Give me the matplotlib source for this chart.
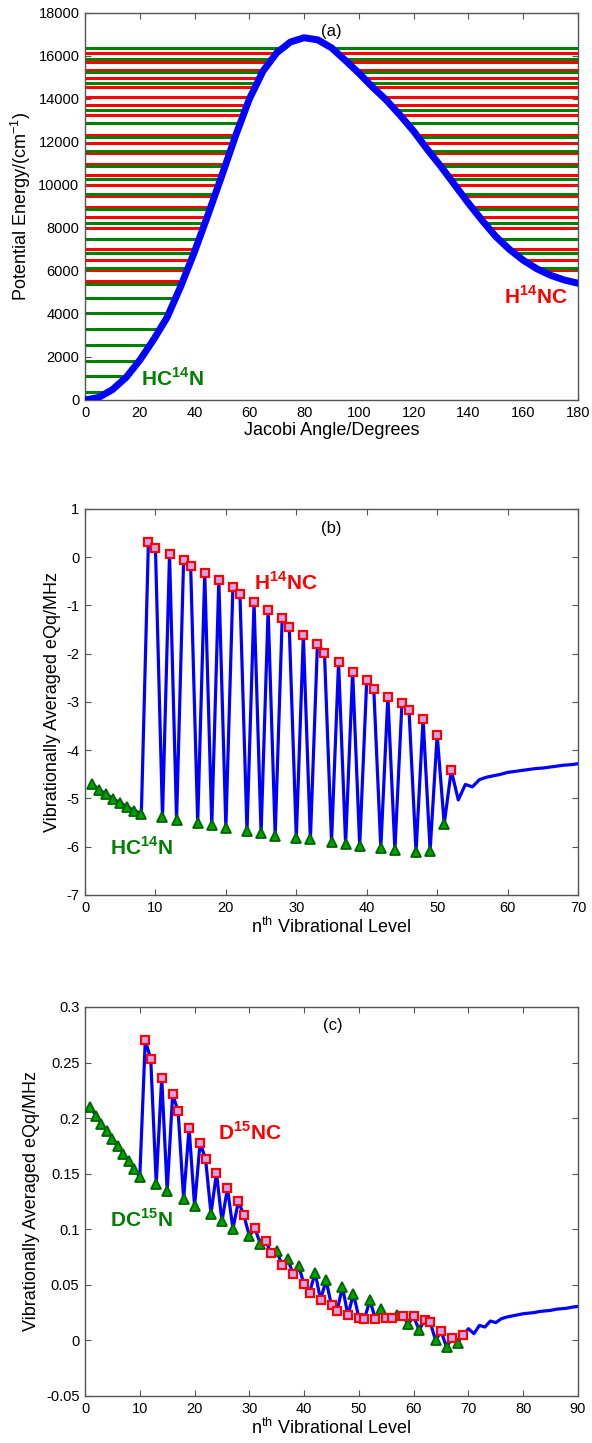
import numpy as np
import matplotlib
matplotlib.use('Agg')
import matplotlib.pyplot as plt

plt.rcParams['font.family'] = ['Liberation Sans', 'DejaVu Sans']
plt.rcParams['mathtext.fontset'] = 'custom'
plt.rcParams['mathtext.rm'] = 'Liberation Sans'
plt.rcParams['mathtext.bf'] = 'Liberation Sans:bold'

# ---- panel (a): potential curve and vibrational levels
theta = [0, 5, 10, 15, 20, 25, 30, 35, 40, 45, 50, 55, 60, 65, 70, 75, 80, 85, 90,
         95, 100, 105, 110, 115, 120, 125, 130, 135, 140, 145, 150, 155, 160, 165, 170, 175, 180]
potential = [0, 120, 480, 1050, 1850, 2800, 3850, 5300, 6900, 8650, 10450, 12300, 14000,
             15300, 16150, 16650, 16850, 16750, 16380, 15800, 15200, 14550, 13950, 13250,
             12500, 11650, 10850, 10000, 9150, 8350, 7600, 7000, 6500, 6100, 5800, 5580, 5430]
hcn_levels = [357, 1116, 1829, 2558, 3287, 4031, 4729, 5395, 6124, 6822, 7488, 8248, 8900,
              9570, 10270, 10890, 11580, 12248, 12870, 13488, 14730, 15270, 15847, 16357]
hnc_levels = [5550, 6047, 6512, 7008, 7984, 8527, 8992, 9480, 10000, 10465, 10961, 11474,
              11930, 12326, 13256, 13700, 14107, 14544, 14975, 15349, 15736, 16140]

# ---- panel (b): H14NC / HC14N eQq
b_level = list(range(1, 71))
b_value = [-4.70, -4.82, -4.91, -5.01, -5.09, -5.18, -5.25, -5.32, 0.31, 0.19,
           -5.39, 0.06, -5.44, -0.06, -0.19, -5.51, -0.33, -5.56, -0.47, -5.61,
           -0.61, -0.77, -5.68, -0.93, -5.72, -1.09, -5.77, -1.26, -1.44, -5.82,
           -1.62, -5.85, -1.80, -1.98, -5.90, -2.18, -5.94, -2.37, -5.98, -2.55,
           -2.73, -6.03, -2.89, -6.07, -3.02, -3.16, -6.11, -3.35, -6.08, -3.68,
           -5.53, -4.42, -5.03, -4.71, -4.76, -4.61, -4.56, -4.53, -4.50, -4.46,
           -4.44, -4.42, -4.40, -4.38, -4.37, -4.35, -4.33, -4.31, -4.30, -4.28]
b_hcn = [1, 2, 3, 4, 5, 6, 7, 8, 11, 13, 16, 18, 20, 23, 25, 27, 30, 32, 35, 37, 39,
         42, 44, 47, 49, 51]
b_hnc = [9, 10, 12, 14, 15, 17, 19, 21, 22, 24, 26, 28, 29, 31, 33, 34, 36, 38, 40, 41,
         43, 45, 46, 48, 50, 52]

# ---- panel (c): D15NC / DC15N eQq
c_level = list(range(1, 91))
c_value = [0.210, 0.202, 0.195, 0.188, 0.1815, 0.175, 0.168, 0.161, 0.154, 0.147,
           0.270, 0.253, 0.141, 0.2365, 0.1344, 0.2214, 0.206, 0.127, 0.1914, 0.1206,
           0.1776, 0.1635, 0.114, 0.1506, 0.107, 0.137, 0.1005, 0.125, 0.1125, 0.094,
           0.101, 0.087, 0.089, 0.0786, 0.080, 0.068, 0.0735, 0.0594, 0.0669, 0.0504,
           0.0429, 0.061, 0.0366, 0.054, 0.0315, 0.0264, 0.048, 0.0225, 0.042, 0.0204,
           0.019, 0.036, 0.0195, 0.0285, 0.020, 0.0204, 0.0225, 0.0216, 0.015, 0.0216,
           0.009, 0.0186, 0.0165, 0.0, 0.0081, -0.006, 0.002, -0.002, 0.0045, 0.0105,
           0.006, 0.0135, 0.012, 0.0174, 0.016, 0.0195, 0.021, 0.022, 0.023, 0.024,
           0.0245, 0.025, 0.026, 0.0265, 0.027, 0.028, 0.0285, 0.029, 0.030, 0.0305]
c_hcn = [1, 2, 3, 4, 5, 6, 7, 8, 9, 10, 13, 15, 18, 20, 23, 25, 27, 30, 32, 35, 37, 39,
         42, 44, 47, 49, 52, 54, 57, 59, 61, 64, 66, 68]
c_hnc = [11, 12, 14, 16, 17, 19, 21, 22, 24, 26, 28, 29, 31, 33, 34, 36, 38, 40, 41, 43,
         45, 46, 48, 50, 51, 53, 55, 56, 58, 60, 62, 63, 65, 67, 69]

BLUE = '#0000ff'
GREEN = '#008000'
RED = '#ff0000'
SPINE = '#555555'

fig = plt.figure(figsize=(5.92, 14.43), dpi=100)


def style(ax):
    ax.tick_params(direction='in', top=True, right=True, labelsize=10.5,
                   length=4, color=SPINE, pad=4)
    for s in ax.spines.values():
        s.set_color(SPINE)
        s.set_linewidth(1.0)


# (a)
ax = fig.add_axes([0.1436, 0.7228, 0.8328, 0.2682])
ax.hlines(hnc_levels, 0, 180, colors=RED, lw=2.2, zorder=1)
ax.hlines(hcn_levels, 0, 180, colors=GREEN, lw=2.2, zorder=1)
ax.fill_between(theta, 0, potential, color='white', zorder=2, lw=0)
ax.plot(theta, potential, color=BLUE, lw=5, zorder=3,
        solid_capstyle='round', solid_joinstyle='round')
ax.set_xlim(0, 180)
ax.set_ylim(0, 18000)
ax.set_xticks(range(0, 181, 20))
ax.set_yticks(range(0, 18001, 2000))
ax.set_xlabel('Jacobi Angle/Degrees', fontsize=13, labelpad=2)
ax.set_ylabel('Potential Energy/(cm$^{-1}$)', fontsize=13, labelpad=4)
ax.text(90, 17150, '(a)', fontsize=12, ha='center', va='center')
ax.text(20.5, 1000, 'HC$^{\\mathbf{14}}$N', color=GREEN, fontsize=15,
        fontweight='bold', ha='left', va='center')
ax.text(153, 4800, 'H$^{\\mathbf{14}}$NC', color=RED, fontsize=15,
        fontweight='bold', ha='left', va='center')
style(ax)


def eqq_panel(rect, level, value, hcn, hnc, xmax, ylim, yticks, texts):
    ax = fig.add_axes(rect)
    val = dict(zip(level, value))
    ax.plot(level, value, color=BLUE, lw=2.3, zorder=2)
    ax.plot(hcn, [val[n] for n in hcn], ls='none', marker='^', ms=6.5,
            mfc='#00a000', mec='#006400', mew=1.3, zorder=3)
    ax.plot(hnc, [val[n] for n in hnc], ls='none', marker='s', ms=5.5,
            mfc='#c8a8f0', mec=RED, mew=1.6, zorder=3)
    ax.set_xlim(0, xmax)
    ax.set_ylim(*ylim)
    ax.set_xticks(range(0, xmax + 1, 10))
    ax.set_yticks(yticks)
    ax.set_yticklabels([f'{v:g}' for v in yticks])
    ax.set_xlabel('n$^{\\mathrm{th}}$ Vibrational Level', fontsize=13, labelpad=2)
    ax.set_ylabel('Vibrationally Averaged eQq/MHz', fontsize=13, labelpad=4)
    for x, y, s, c, w in texts:
        ax.text(x, y, s, color=c, fontsize=15 if w else 12,
                fontweight='bold' if w else 'normal', ha='left' if w else 'center',
                va='center')
    style(ax)
    return ax


eqq_panel([0.1436, 0.3798, 0.8328, 0.2675], b_level, b_value, b_hcn, b_hnc, 70,
          (-7, 1), [-7, -6, -5, -4, -3, -2, -1, 0, 1],
          [(35, 0.6, '(b)', 'black', False),
           (24, -0.53, 'H$^{\\mathbf{14}}$NC', RED, True),
           (3.6, -6.02, 'HC$^{\\mathbf{14}}$N', GREEN, True)])

eqq_panel([0.1436, 0.0326, 0.8328, 0.2696], c_level, c_value, c_hcn, c_hnc, 90,
          (-0.05, 0.3), [-0.05, 0, 0.05, 0.1, 0.15, 0.2, 0.25, 0.3],
          [(45.2, 0.2835, '(c)', 'black', False),
           (24.3, 0.1866, 'D$^{\\mathbf{15}}$NC', RED, True),
           (4.6, 0.1086, 'DC$^{\\mathbf{15}}$N', GREEN, True)])

fig.savefig('out.png', dpi=100)
